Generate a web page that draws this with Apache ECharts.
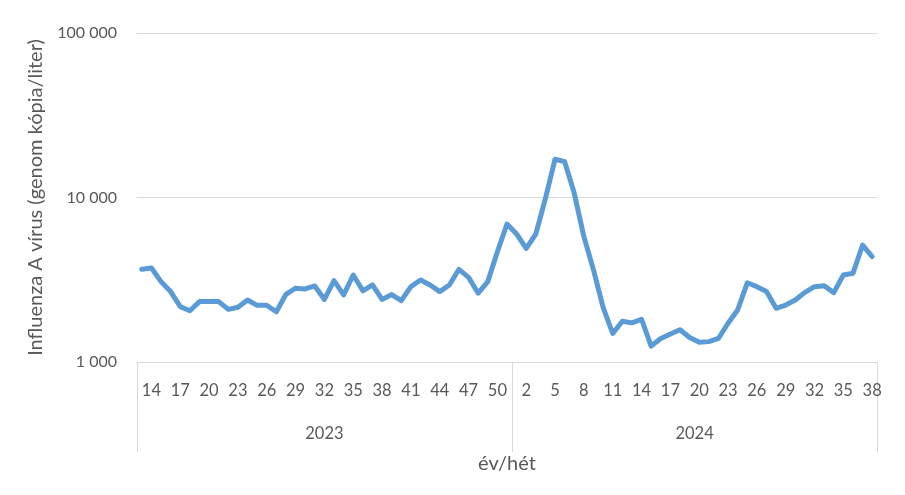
<!DOCTYPE html>
<html>
<head>
<meta charset="utf-8">
<script src="https://cdn.jsdelivr.net/npm/echarts@6/dist/echarts.min.js"></script>
<style>
  html, body { margin: 0; padding: 0; background: #fff; }
  #chart { width: 905px; height: 495px; }
</style>
</head>
<body>
<div id="chart"></div>
<script>
  // weeks sampled in each year
  const years = ['2023', '2024']
  const weeks2023 = [13, 14, 15, 16, 17, 18, 19, 20, 21, 22, 23, 24, 25, 26, 27, 28, 29, 30, 31, 32,
    33, 34, 35, 36, 37, 38, 39, 40, 41, 42, 43, 44, 45, 46, 47, 48, 49, 50, 51]
  const weeks2024 = [1, 2, 3, 4, 5, 6, 7, 8, 9, 10, 11, 12, 13, 14, 15, 16, 17, 18, 19, 20,
    21, 22, 23, 24, 25, 26, 27, 28, 29, 30, 31, 32, 33, 34, 35, 36, 37, 38]
  // genome copies per liter
  const values2023 = [3660, 3730, 3080, 2680, 2170, 2050, 2330, 2330, 2330, 2090,
    2150, 2380, 2210, 2210, 2020, 2580, 2810, 2780, 2900, 2400,
    3120, 2560, 3380, 2710, 2940, 2400, 2570, 2360, 2870, 3150,
    2940, 2680, 2940, 3660, 3270, 2620, 3080, 4680, 6900]
  const values2024 = [6000, 4910, 6000, 9890, 17100, 16500, 10600, 5780, 3630, 2150,
    1490, 1770, 1730, 1820, 1250, 1390, 1480, 1570, 1410, 1320,
    1330, 1390, 1720, 2070, 3030, 2870, 2680, 2120, 2220, 2380,
    2650, 2870, 2910, 2640, 3380, 3460, 5140, 4370]
  const yMin = 1000
  const yMax = 100000

  const categories = []
  weeks2023.forEach(w => categories.push(years[0] + '/' + w))
  weeks2024.forEach(w => categories.push(years[1] + '/' + w))
  const allValues = values2023.concat(values2024)

  const n2023 = weeks2023.length
  const mid2023 = Math.floor(n2023 / 2)
  const mid2024 = n2023 + Math.floor(weeks2024.length / 2) - 1

  const font = 'Lato, "Open Sans", sans-serif'
  const grey = '#595959'
  const lineGrey = '#d9d9d9'

  var chart = echarts.init(document.getElementById('chart'))
  let option = {
    animation: false,
    grid: { left: 137, right: 28, top: 33, bottom: 133, containLabel: false },
    xAxis: [{
      type: 'category',
      data: categories,
      boundaryGap: true,
      position: 'bottom',
      axisLine: { onZero: false, lineStyle: { color: lineGrey, width: 1 } },
      axisTick: { show: false },
      axisLabel: {
        interval: (i) => (i - 1) % 3 === 0,
        formatter: (v) => v.split('/')[1],
        margin: 20,
        fontFamily: font,
        fontSize: 16.5,
        color: grey
      }
    }, {
      type: 'category',
      data: categories,
      boundaryGap: true,
      position: 'bottom',
      axisLine: { show: false, onZero: false },
      axisTick: {
        show: true,
        length: 90,
        interval: (i) => i === 0 || i === n2023,
        lineStyle: { color: lineGrey, width: 1 }
      },
      axisLabel: {
        interval: (i) => i === mid2023 || i === mid2024,
        formatter: (v) => v.split('/')[0] === years[1] ? '{r|' + years[1] + '}' : v.split('/')[0],
        rich: { r: { padding: [0, 0, 0, 10], fontFamily: font, fontSize: 16.5, color: grey } },
        margin: 63,
        fontFamily: font,
        fontSize: 16.5,
        color: grey
      },
      name: 'év/hét',
      nameLocation: 'middle',
      nameGap: 92,
      nameTextStyle: { fontFamily: font, fontSize: 20, color: grey }
    }],
    yAxis: {
      type: 'log',
      logBase: 10,
      min: yMin,
      max: yMax,
      axisLine: { show: false },
      axisTick: { show: false },
      splitLine: { lineStyle: { color: lineGrey, width: 1 } },
      axisLabel: {
        margin: 20,
        fontFamily: font,
        fontSize: 16,
        color: grey,
        formatter: (v) => String(Math.round(v)).replace(/\B(?=(\d{3})+(?!\d))/g, ' ')
      },
      name: 'Influenza A vírus (genom kópia/liter)',
      nameLocation: 'middle',
      nameGap: 91,
      nameTextStyle: { fontFamily: font, fontSize: 20, color: grey }
    },
    series: [{
      type: 'line',
      xAxisIndex: 0,
      data: allValues,
      showSymbol: false,
      symbol: 'none',
      lineStyle: { color: '#5b9bd5', width: 5, cap: 'round', join: 'round' },
      itemStyle: { color: '#5b9bd5' }
    }]
  }
  chart.setOption(option)
</script>
</body>
</html>
